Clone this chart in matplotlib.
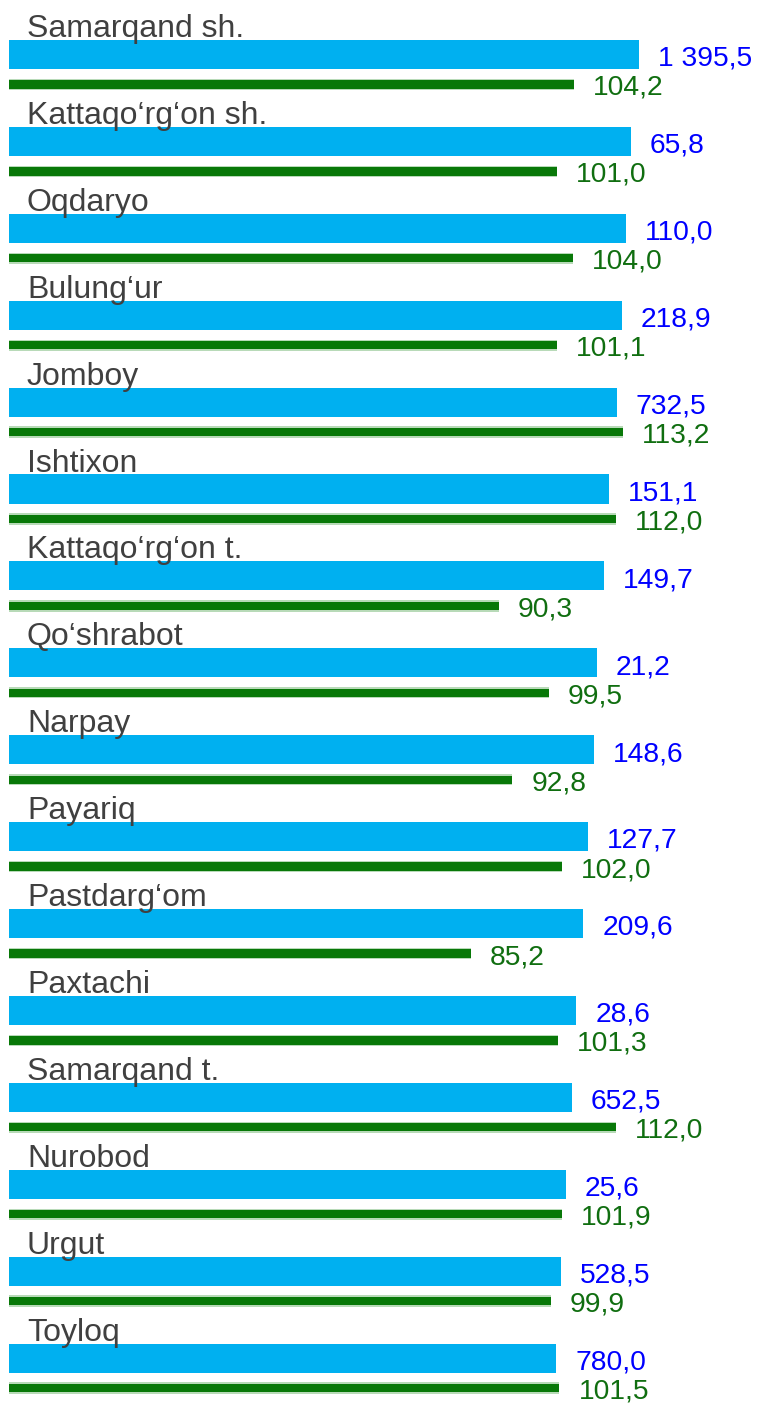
import matplotlib
matplotlib.use("Agg")
import matplotlib.pyplot as plt

# Districts of Samarqand region
districts = ["Samarqand sh.", "Kattaqo‘rg‘on sh.", "Oqdaryo", "Bulung‘ur", "Jomboy",
             "Ishtixon", "Kattaqo‘rg‘on t.", "Qo‘shrabot", "Narpay", "Payariq",
             "Pastdarg‘om", "Paxtachi", "Samarqand t.", "Nurobod", "Urgut", "Toyloq"]

# Volume (blue labels) and growth rate, % (green bars)
volume = [1395.5, 65.8, 110.0, 218.9, 732.5, 151.1, 149.7, 21.2,
          148.6, 127.7, 209.6, 28.6, 652.5, 25.6, 528.5, 780.0]
growth = [104.2, 101.0, 104.0, 101.1, 113.2, 112.0, 90.3, 99.5,
          92.8, 102.0, 85.2, 101.3, 112.0, 101.9, 99.9, 101.5]

# Length of the decorative blue ribbons (same x units as the growth bars)
blue_bar_len = [116.2, 114.7, 113.8, 113.0, 112.1, 110.6, 109.7, 108.4,
                107.9, 106.8, 105.9, 104.6, 103.8, 102.7, 101.8, 100.9]

BLUE = "#00B0F0"
BLUE_TXT = "#0000FF"
GREEN = "#087808"
GREEN_EDGE = "#B8DAB8"
GREEN_TXT = "#106E10"
GREY = "#404040"

plt.rcParams["font.family"] = ["Liberation Sans", "DejaVu Sans"]


def fmt(v):
    s = f"{v:,.1f}"
    return s.replace(",", " ").replace(".", ",")


fig = plt.figure(figsize=(7.58, 14.08), dpi=100)
ax = fig.add_axes([0, 0, 1, 1])
ax.set_xlim(-1.753, 138.15)
ax.set_ylim(15.575, -0.627)
ax.axis("off")

rows = list(range(len(districts)))
g_off = 0.345
label_dx = 3.5

ax.barh(rows, blue_bar_len, height=0.334, left=0, color=BLUE, edgecolor="none")
g_rows = [r + g_off for r in rows]
ax.barh(g_rows, growth, height=0.13, color=GREEN_EDGE, edgecolor="none")
ax.barh(g_rows, growth, height=0.095, color=GREEN, edgecolor="none")

for r, name, bl, v, g in zip(rows, districts, blue_bar_len, volume, growth):
    ax.text(3.23, r - 0.201, name, fontsize=23, color=GREY, va="baseline", ha="left")
    ax.text(bl + label_dx, r + 0.13, fmt(v), fontsize=20.3, color=BLUE_TXT,
            va="baseline", ha="left")
    ax.text(g + label_dx, r + 0.466, fmt(g), fontsize=20.3, color=GREEN_TXT,
            va="baseline", ha="left")

fig.savefig("out.png", dpi=100)
